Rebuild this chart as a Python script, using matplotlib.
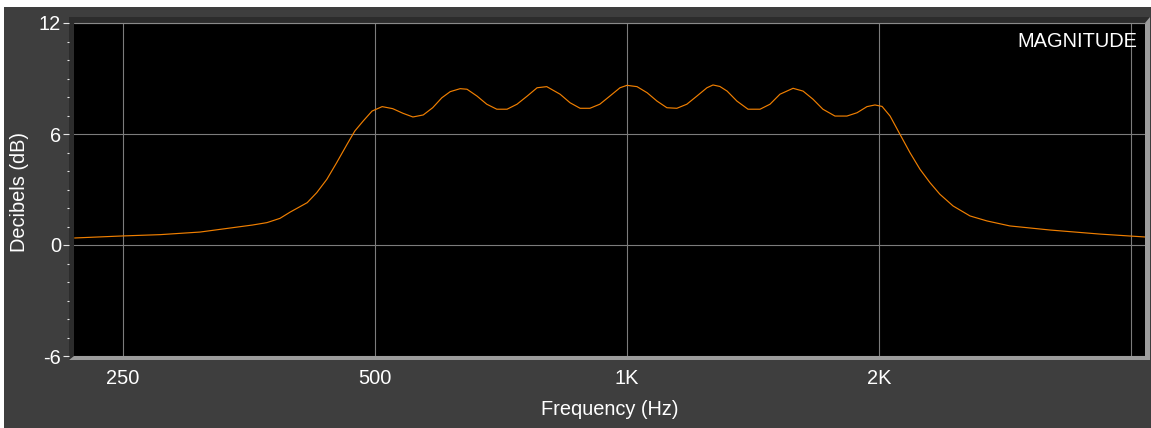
import matplotlib
matplotlib.use("Agg")
import matplotlib.pyplot as plt
from matplotlib.patches import Rectangle, Polygon
from matplotlib.ticker import FixedLocator, MultipleLocator, NullLocator

# ---------------- data ----------------
freq_hz = [219, 250, 277, 309, 345, 357, 371.5, 385, 396, 415, 426, 438, 450, 463, 473, 484, 496,
           510, 525, 540, 555, 571, 586, 601, 615, 632, 644, 662, 680, 699, 719, 739, 760,
           781, 802, 832, 855, 879, 903, 928, 954, 981, 1000, 1028, 1057, 1086, 1116, 1147,
           1179, 1212, 1246, 1267, 1291, 1317, 1353, 1395, 1442, 1482, 1523, 1579, 1623,
           1668, 1714, 1772, 1831, 1883, 1935, 1978, 2017, 2062, 2119, 2178, 2239, 2301,
           2365, 2452, 2569, 2692, 2867, 3201, 3673, 4168]
gain_db = [0.38, 0.49, 0.56, 0.70, 0.99, 1.08, 1.21, 1.44, 1.78, 2.29, 2.83, 3.55, 4.45, 5.44, 6.16,
           6.70, 7.24, 7.48, 7.37, 7.12, 6.92, 7.03, 7.42, 7.96, 8.29, 8.45, 8.42, 8.05, 7.61,
           7.34, 7.34, 7.61, 8.05, 8.50, 8.56, 8.15, 7.69, 7.39, 7.39, 7.61, 8.05, 8.50, 8.63,
           8.56, 8.23, 7.78, 7.42, 7.39, 7.61, 8.05, 8.50, 8.65, 8.57, 8.32, 7.78, 7.34, 7.34,
           7.61, 8.15, 8.47, 8.32, 7.88, 7.34, 6.97, 6.97, 7.15, 7.48, 7.57, 7.49, 6.97, 5.98,
           4.99, 4.09, 3.37, 2.74, 2.11, 1.57, 1.30, 1.03, 0.81, 0.59, 0.43]

x_ticks = [250, 500, 1000, 2000, 4000]
x_tick_labels = ["250", "500", "1K", "2K", ""]
y_ticks = [-6, 0, 6, 12]
y_tick_labels = ["-6", "0", "6", "12"]
x_limits = (218.8, 4157)
y_limits = (-6, 12)

# ---------------- layout ----------------
W, H = 1151, 428
plt.rcParams["font.family"] = ["Liberation Sans", "DejaVu Sans"]
fig = plt.figure(figsize=(W / 100, H / 100), dpi=100, facecolor="white")


def fx(px):
    return px / W


def fy(py):
    return 1 - py / H


# background panel
bg = fig.add_axes([0, 0, 1, 1], zorder=0)
bg.set_xlim(0, W)
bg.set_ylim(H, 0)
bg.axis("off")
bg.add_patch(Rectangle((4, 7), W - 4, H - 7, facecolor="#3e3e3e", edgecolor="none"))
# bevel frame
bg.add_patch(Rectangle((69, 17), 1150 - 69, 360 - 17, facecolor="#2c2c2c", edgecolor="none"))
bg.add_patch(Polygon([(69, 360), (1150, 360), (1150, 17), (1145, 23), (1145, 356), (74, 356)],
                     closed=True, facecolor="#9c9c9c", edgecolor="none"))

L, R, T, B = 74.5, 1145, 23, 356
ax = fig.add_axes([fx(L), fy(B), (R - L) / W, (B - T) / H], zorder=1)
ax.set_facecolor("black")
ax.set_xscale("log")
ax.set_xlim(*x_limits)
ax.set_ylim(*y_limits)

ax.plot(freq_hz, gain_db, color="#f07f00", lw=0.85, zorder=3, solid_joinstyle="round")

# grid
ax.xaxis.set_major_locator(FixedLocator(x_ticks))
ax.xaxis.set_minor_locator(NullLocator())
ax.set_xticklabels(x_tick_labels)
ax.yaxis.set_major_locator(FixedLocator(y_ticks))
ax.yaxis.set_minor_locator(MultipleLocator(1))
ax.set_yticklabels(y_tick_labels)
ax.grid(True, which="major", color="#7c7c7c", lw=0.8)

for s in ["left", "bottom", "right"]:
    ax.spines[s].set_color("none")
ax.spines["top"].set_color("#8a8a8a")
ax.spines["top"].set_linewidth(0.8)
ax.spines["left"].set_position(("outward", 4))

ax.tick_params(axis="x", length=0, pad=9, labelsize=14.4, labelcolor="white")
ax.tick_params(axis="y", which="major", direction="out", length=4.3, width=0.8,
               color="#e8e8e8", pad=1.5, labelsize=14.4, labelcolor="white")
ax.tick_params(axis="y", which="minor", direction="out", length=1.8, width=0.8,
               color="#e8e8e8")

ax.set_xlabel("Frequency (Hz)", fontsize=14.4, color="white")
ax.xaxis.set_label_coords(0.5, -0.162)
ax.xaxis.label.set_va("center")
ax.set_ylabel("Decibels (dB)", fontsize=14.4, color="white")
ax.yaxis.set_label_coords(-0.0518, 0.4925)
ax.yaxis.label.set_va("center")

ax.text(0.9925, 0.928, "MAGNITUDE", transform=ax.transAxes, ha="right", va="baseline",
        fontsize=14.4, color="white")

fig.savefig("out.png", dpi=100, facecolor="white")
